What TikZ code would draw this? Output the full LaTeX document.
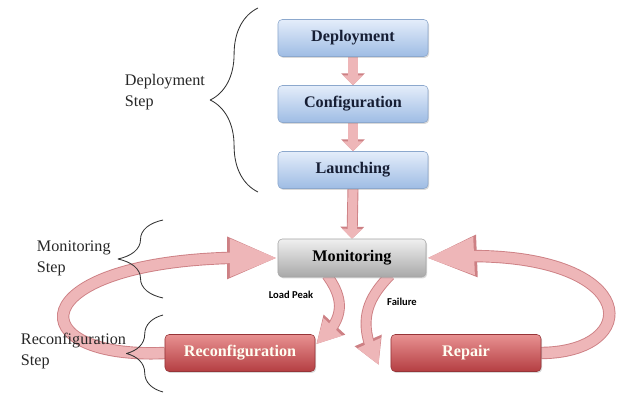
\documentclass[tikz,border=0pt]{standalone}
\usepackage{fontspec}
\setmainfont{Liberation Serif}
\newfontfamily\labelfont{Carlito}
\usetikzlibrary{arrows.meta,bending,decorations.pathreplacing,shadows,backgrounds}
\definecolor{bluetop}{RGB}{228,237,250}
\definecolor{bluebot}{RGB}{158,188,228}
\definecolor{blueedge}{RGB}{140,168,205}
\definecolor{redtop}{RGB}{232,145,145}
\definecolor{redbot}{RGB}{180,62,66}
\definecolor{rededge}{RGB}{150,52,56}
\definecolor{arrowfill}{RGB}{238,182,184}
\definecolor{arrowedge}{RGB}{205,128,132}
\definecolor{boxtext}{RGB}{22,30,52}

\begin{document}
\begin{tikzpicture}[x=0.025cm,y=-0.025cm, line join=round,
  stagebox/.style={rounded corners=3pt, top color=bluetop, bottom color=bluebot, draw=blueedge,
    minimum width=3.75cm, minimum height=0.925cm, text=boxtext,
    font=\fontsize{11.5}{13}\selectfont\bfseries,
    drop shadow={shadow xshift=0.8pt, shadow yshift=-1pt, opacity=0.3}},
  watchbox/.style={stagebox, top color=gray!12, bottom color=gray!68, draw=gray!70, text=black,
    minimum width=3.7cm, minimum height=0.95cm},
  fixbox/.style={stagebox, top color=redtop, bottom color=redbot, draw=rededge, text=white!95!yellow},
  steptext/.style={anchor=west, align=left, font=\fontsize{11.5}{15}\selectfont, text=black!85},
  smalltext/.style={font=\labelfont\fontsize{7.5}{9}\selectfont\bfseries},
  stepbrace/.style={decorate, decoration={brace, amplitude=#1}, draw=black!80, line width=0.6pt},
  shortarrow/.style={line cap=butt, draw=arrowfill, line width=6.5pt, -{Triangle[width=14pt,length=7pt]},
    preaction={draw=arrowedge, line width=7.8pt, -{Triangle[width=16.5pt,length=8.5pt]}}},
  midarrow/.style={line cap=butt, draw=arrowfill, line width=6.5pt, -{Triangle[width=17pt,length=17pt]},
    preaction={draw=arrowedge, line width=7.8pt, -{Triangle[width=19.5pt,length=19pt]}}},
  bigarrow/.style={line cap=butt, draw=arrowfill, line width=7.5pt, -{Triangle[width=25pt,length=34pt]},
    preaction={draw=arrowedge, line width=8.8pt, -{Triangle[width=27.5pt,length=36pt]}}}]
\useasboundingbox (0,0) rectangle (620,394);

\node[stagebox] (dep) at (353,38) {Deployment};
\node[stagebox] (conf) at (353,104) {Configuration};
\node[stagebox] (launch) at (353,170) {Launching};
\node[watchbox] (mon) at (352,258) {Monitoring};
\node[fixbox] (rec) at (240,353) {Reconfiguration};
\node[fixbox] (rep) at (466,353) {Repair};

\node[smalltext] (peak) at (291,295) {Load Peak};
\node[smalltext] (fail) at (402,302) {Failure};

\node[steptext] (deplabel) at (120,92) {Deployment\\Step};
\node[steptext] (monlabel) at (32,258) {Monitoring\\Step};
\node[steptext] (reclabel) at (16,351) {Reconfiguration\\Step};

\begin{scope}[on background layer]
\draw[shortarrow] (dep.south) -- (conf.north);
\draw[shortarrow] (conf.south) -- (launch.north);
\draw[shortarrow] (launch.south) -- (mon.north);
\draw[bigarrow] (rec.west) .. controls (10,360) and (20,250) .. (mon.west);
\draw[bigarrow] (rep.east) .. controls (650,352) and (640,240) .. (mon.east);
\draw[midarrow] ([shift={(-25,-2)}]mon.south) .. controls (345,300) and (345,320) .. ([shift={(1,10)}]rec.north east);
\draw[midarrow] ([shift={(38,-2)}]mon.south) .. controls (368,298) and (355,322) .. ([shift={(-12,12)}]rep.west);
\end{scope}

\draw[stepbrace=34pt] (258,192) -- (258,8);
\draw[stepbrace=32pt] (163,298) -- (163,220);
\draw[stepbrace=26pt] (163,392) -- (163,315);
\end{tikzpicture}
\end{document}
